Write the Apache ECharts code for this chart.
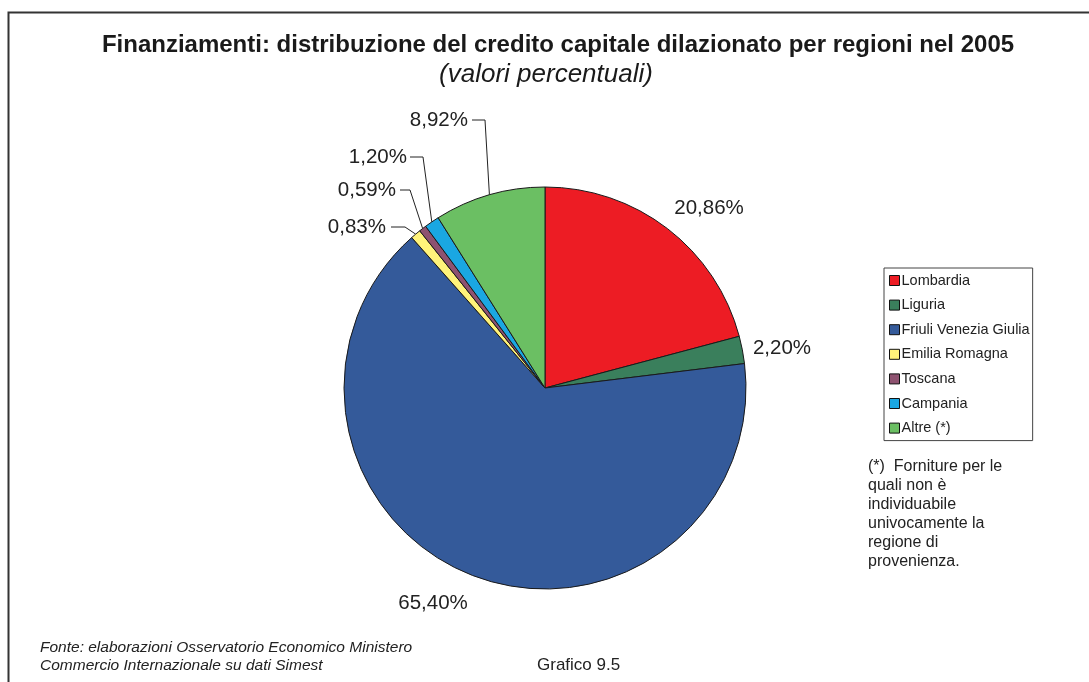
<!DOCTYPE html>
<html>
<head>
<meta charset="utf-8">
<script src="https://cdn.jsdelivr.net/npm/echarts@6/dist/echarts.min.js"></script>
<style>
html,body{margin:0;padding:0;background:#fff;}
#chart{width:1089px;height:682px;}
</style>
</head>
<body>
<div id="chart"></div>
<script>
var regions = ['Lombardia','Liguria','Friuli Venezia Giulia','Emilia Romagna','Toscana','Campania','Altre (*)'];
var shares = [20.86, 2.20, 65.40, 0.83, 0.59, 1.20, 8.92];
var colors = ['#ED1C24','#3A7F5C','#345A9A','#FFF37A','#8E5270','#1AA7E2','#6BBF63'];
var showLine = [false, false, false, true, true, true, true];
var noteLines = ['(*)  Forniture per le','quali non è','individuabile','univocamente la','regione di','provenienza.'];
var titleText = 'Finanziamenti: distribuzione del credito capitale dilazionato per regioni nel 2005';
var subtitleText = '(valori percentuali)';
var sourceLines = ['Fonte: elaborazioni Osservatorio Economico Ministero','Commercio Internazionale su dati Simest'];
var chartNumber = 'Grafico 9.5';

// label placement (layout, not data)
var labelPlace = [
  {x:709, y:208, align:'center'},
  {x:782, y:348, align:'center'},
  {x:433, y:603, align:'center'},
  {x:386, y:227, align:'right', elbowX:405, lineEnd:391},
  {x:396, y:190, align:'right', elbowX:410, lineEnd:400},
  {x:407, y:157, align:'right', elbowX:423, lineEnd:410},
  {x:468, y:120, align:'right', elbowX:485, lineEnd:472}
];

function fmt(v){ return v.toFixed(2).replace('.', ',') + '%'; }

var pieData = regions.map(function(n,i){
  return {
    name:n, value:shares[i],
    itemStyle:{color:colors[i]},
    labelLine:{show:showLine[i]}
  };
});

var chart = echarts.init(document.getElementById('chart'), null, {renderer:'canvas'});
var FF = 'Liberation Sans, Arial, Helvetica, sans-serif';

var graphics = [
  {type:'rect', shape:{x:8.5, y:12.5, width:1200, height:800}, style:{fill:'none', stroke:'#333', lineWidth:2}, silent:true, z:0}
];
noteLines.forEach(function(t,i){
  graphics.push({type:'text', left:868, top:459 + i*19, style:{text:t, font:'16px ' + FF, fill:'#222'}});
});
sourceLines.forEach(function(t,i){
  graphics.push({type:'text', left:40, top:640 + i*18, style:{text:t, font:'italic 15.5px ' + FF, fill:'#222'}});
});
graphics.push({type:'text', left:537, top:657, style:{text:chartNumber, font:'17px ' + FF, fill:'#222'}});

chart.setOption({
  animation:false,
  backgroundColor:'#fff',
  title:[
    {text:titleText, left:553, top:28, textAlign:'center',
     textStyle:{fontFamily:FF, fontWeight:'bold', fontSize:24, color:'#1a1a1a'}},
    {text:subtitleText, left:541, top:57, textAlign:'center',
     textStyle:{fontFamily:FF, fontStyle:'italic', fontWeight:'normal', fontSize:26, color:'#1a1a1a'}}
  ],
  legend:{
    orient:'vertical', left:884, top:268,
    data:regions,
    icon:'rect', itemWidth:10, itemHeight:10, itemGap:9.6,
    borderColor:'#444', borderWidth:1, padding:[5,3,5,5],
    itemStyle:{borderColor:'#111', borderWidth:1},
    textStyle:{fontFamily:FF, fontSize:14.5, color:'#222', padding:[0,0,0,-3]},
    selectedMode:false
  },
  graphic:graphics,
  series:[{
    type:'pie',
    center:[545, 388],
    radius:201,
    startAngle:90,
    clockwise:true,
    data:pieData,
    silent:true,
    itemStyle:{borderColor:'#1a1a1a', borderWidth:1},
    emphasis:{disabled:true},
    label:{
      show:true, position:'outside',
      formatter:function(p){ return fmt(p.value); },
      fontFamily:FF, fontSize:20.5, color:'#222'
    },
    labelLine:{show:true, length:10, length2:10, lineStyle:{color:'#222', width:1}},
    labelLayout:function(params){
      var lp = labelPlace[params.dataIndex];
      var out = {x:lp.x, y:lp.y, align:lp.align, verticalAlign:'middle'};
      if (lp.elbowX !== undefined && params.labelLinePoints) {
        var p0 = params.labelLinePoints[0];
        out.labelLinePoints = [[p0[0], p0[1]], [lp.elbowX, lp.y], [lp.lineEnd, lp.y]];
      }
      return out;
    }
  }]
});
</script>
</body>
</html>
